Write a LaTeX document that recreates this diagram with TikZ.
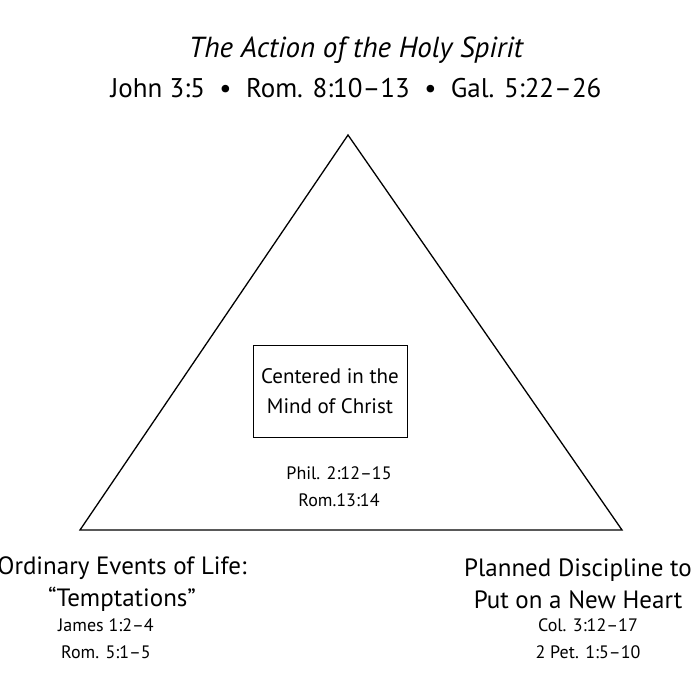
\documentclass[tikz,border=0pt]{standalone}
\usepackage{fontspec}
\setmainfont{PT Sans}
\begin{document}
\begin{tikzpicture}[x=1pt,y=-1pt,
  big/.style={align=center,inner sep=0},
  small/.style={font=\fontsize{18}{27}\selectfont,align=center,inner sep=0}]
\useasboundingbox (0,0) rectangle (700,700);
\node[big,font=\fontsize{29}{32}\selectfont\itshape] (title) at (356,50) {The Action of the Holy Spirit};
\node[big,font=\fontsize{27}{30}\selectfont] (refs) at (356,88) {John 3:5 \ \textbullet\ \ Rom. 8:10–13 \ \textbullet\ \ Gal. 5:22–26};
\coordinate (A) at (348,135);
\coordinate (B) at (80,530);
\coordinate (C) at (622,530);
\draw[line width=1.3pt,line join=miter] (A) -- (B) -- (C) -- cycle;
\node[draw,line width=1pt,minimum width=154,minimum height=92,big,font=\fontsize{21}{30}\selectfont] (box) at (330,391) {Centered in the\\Mind of Christ};
\node[small] (phil) at (339,487) {Phil. 2:12–15\\Rom.13:14};
\node[big,font=\fontsize{25}{32}\selectfont] (left) at (122,584) {Ordinary Events of Life:\\“Temptations”};
\node[small] (leftr) at (106,639) {James 1:2–4\\Rom. 5:1–5};
\node[big,font=\fontsize{25}{32}\selectfont] (right) at (578,584) {Planned Discipline to\\Put on a New Heart};
\node[small] (rightr) at (588,639) {Col. 3:12–17\\2 Pet. 1:5–10};
\end{tikzpicture}
\end{document}
